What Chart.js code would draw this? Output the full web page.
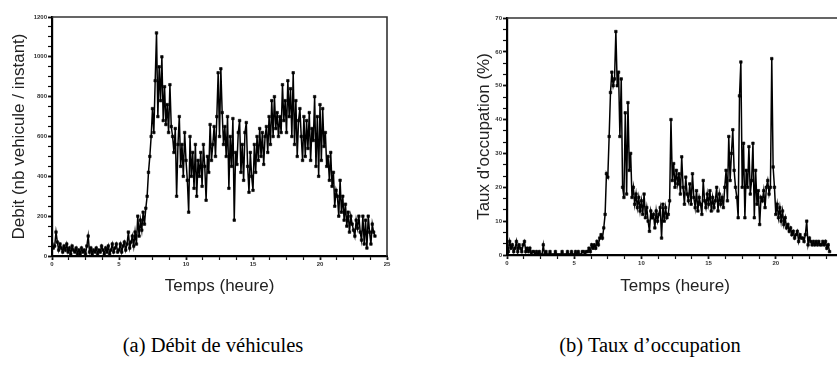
<!DOCTYPE html>
<html><head><meta charset="utf-8">
<script src="https://cdn.jsdelivr.net/npm/chart.js@4/dist/chart.umd.min.js"></script>
<style>
html,body{margin:0;padding:0;background:#fff;width:837px;height:376px;overflow:hidden;position:relative}
.c{position:absolute;top:0;height:300px;width:420px}
#wa{left:0}
#wb{left:465px}
.cap{position:absolute;font-family:"Liberation Serif","Times New Roman",serif;font-size:20.5px;color:#000;top:334px;white-space:nowrap;transform:translateX(-50%)}
</style></head><body>
<div class="c" id="wa"><canvas id="ca" width="420" height="300"></canvas></div>
<div class="c" id="wb"><canvas id="cb" width="420" height="300"></canvas></div>
<div class="cap" style="left:213px">(a) Débit de véhicules</div>
<div class="cap" style="left:650px">(b) Taux d’occupation</div>
<script>
// sampling: one value every 0.1 hour (6 minutes), starting at 0 h
const SAMPLE_STEP_H = 0.1;

// (a) Débit (nb véhicule / instant)
const debit = [
 60, 40, 50,120, 70, 30, 60, 40, 20, 50,
 30, 60, 20, 40, 10, 50, 30, 20, 40, 10,
 30, 10, 40, 20, 30, 10, 50,100, 20, 40,
 10, 30, 20, 40, 10, 30, 20, 50, 30, 10,
 40, 20, 50, 10, 30, 60, 20, 40, 60, 20,
 30, 60, 20, 50, 70, 30, 60,120, 40, 70,
100, 50,120, 60,200,100,180,130,220,160,
240,300,420,500,600,740,620,880,1120,700,
950,780,1000,680,850,660,760,620,860,650,
600,520,640,300,560,700,450,560,400,620,
480,380,220,600,400,520,340,560,300,480,
400,520,350,560,450,280,500,420,660,480,
560,650,500,700,920,600,940,720,560,650,
500,700,340,600,450,690,180,520,460,620,
680,420,560,380,620,670,450,320,520,400,
330,560,420,600,480,640,500,620,460,600,
650,520,700,560,780,600,800,640,720,600,
700,620,860,680,780,620,880,700,840,600,
920,560,780,500,680,740,600,480,700,500,
680,540,720,480,640,580,800,450,700,400,
760,480,740,550,620,450,500,380,520,350,
420,250,330,300,200,380,220,300,180,260,
150,220,120,200,160,130,100,180,140,200,
120, 80,200, 60,180, 40,200,120, 60,160,
120,100
];

// (b) Taux d'occupation (%)
const occupation = [
  3, 1, 4, 2, 3, 1, 2, 4, 1, 3,
  2, 1, 3, 4, 1, 2, 1, 2, 0, 1,
  1, 0, 1, 0, 1, 0, 0, 3, 0, 1,
  0, 0, 1, 0, 0, 0, 1, 0, 0, 0,
  0, 1, 0, 0, 0, 1, 0, 0, 1, 0,
  0, 1, 0, 1, 0, 0, 1, 1, 0, 1,
  1, 2, 1, 3, 2, 3, 2, 4, 3, 5,
  6, 5, 8,12,24,23,35,48,54,50,
 52,66,50,54,35,52,20,17,42,18,
 45,25,30,17,20,15,18,14,17,13,
 16,12,18,11,14,10, 7,13,11,12,
  8,13,10,12,14, 5,15,10,14,11,
 12,16,40,22,27,20,25,21,24,18,
 29,20,15,23,18,16,21,15,24,17,
 14,19,13,17,15,12,22,16,14,18,
 15,19,13,17,14,16,20,13,18,15,
 17,14,20,25,16,35,22,30,37,25,
 20,17,11,47,57,20,33,11,25,20,
 32,18,22,33,11,25,15,19, 9,17,
 16,19,14,20,22,18,20,58,26,20,
 12,15,11,14,10,13, 9,11, 8, 9,
  7, 8, 6, 7, 5, 6, 7, 4, 6, 5,
  5, 4, 6,10, 3, 5, 4, 3, 4, 3,
  4, 3, 4, 3, 3, 4, 3, 4, 2, 3,
  1
];

// tick labels
const hourTicks = [0, 5, 10, 15, 20, 25];
const debitTicks = [0, 200, 400, 600, 800, 1000, 1200];
const occupationTicks = [0, 10, 20, 30, 40, 50, 60, 70];
const hourMinorPerMajor = 4;
const debitMinorPerMajor = 4;
const occupationMinorPerMajor = 3;

const xTitle = 'Temps (heure)';
const yTitleA = 'Debit (nb vehicule / instant)';
const yTitleB = "Taux d'occupation (%)";

function withMinor(majors, sub) {
  const out = [];
  for (let i = 0; i < majors.length; i++) {
    out.push({v: majors[i], major: true});
    if (i < majors.length - 1) {
      const d = (majors[i + 1] - majors[i]) / sub;
      for (let k = 1; k < sub; k++) out.push({v: majors[i] + d * k, major: false});
    }
  }
  return out;
}
function isMajor(majors, v) { return majors.some(m => Math.abs(m - v) < 1e-6); }

const frame = {
  id: 'frame',
  afterDatasetsDraw(chart) {
    const {ctx, chartArea: a} = chart;
    ctx.save();
    ctx.strokeStyle = '#333';
    ctx.lineWidth = 1.6;
    ctx.beginPath();
    ctx.moveTo(a.left, a.top);
    ctx.lineTo(a.right, a.top);
    ctx.lineTo(a.right, a.bottom);
    ctx.stroke();
    ctx.restore();
  }
};

const FONT = '"Liberation Sans", Arial, sans-serif';

function makeChart(id, values, yMajors, ySub, yTitle, pad, yWidth, xHeight) {
  const points = values.map((v, i) => ({x: i * SAMPLE_STEP_H, y: v}));
  const xT = withMinor(hourTicks, hourMinorPerMajor);
  const yT = withMinor(yMajors, ySub);
  const tickGrid = majors => ({
    display: true, drawOnChartArea: false, drawTicks: true, tickLength: 4,
    tickColor: '#111',
    tickWidth: c => (c.tick && isMajor(majors, c.tick.value)) ? 1.8 : 1.2
  });
  return new Chart(document.getElementById(id), {
    type: 'line',
    data: { datasets: [{
      data: points,
      borderColor: '#000', borderWidth: 1.5,
      pointStyle: 'rect', pointRadius: 1.8,
      pointBackgroundColor: '#000', pointBorderColor: '#000', pointBorderWidth: 0.6,
      tension: 0
    }]},
    options: {
      responsive: false, animation: false,
      layout: { padding: pad },
      plugins: { legend: {display: false}, tooltip: {enabled: false} },
      scales: {
        x: {
          type: 'linear', min: hourTicks[0], max: hourTicks[hourTicks.length - 1],
          afterBuildTicks: s => { s.ticks = xT.map(t => ({value: t.v})); },
          afterFit: s => { s.height = xHeight; },
          ticks: { autoSkip: false, maxRotation: 0, padding: 1,
            font: {family: FONT, size: 6, weight: 'bold'}, color: '#333',
            callback: v => isMajor(hourTicks, v) ? String(Math.round(v)) : '' },
          grid: tickGrid(hourTicks),
          border: { display: true, color: '#000', width: 2.2 },
          title: { display: true, text: xTitle, color: '#222',
            font: {family: FONT, size: 17}, padding: {top: 0, bottom: 3} }
        },
        y: {
          type: 'linear', min: yMajors[0], max: yMajors[yMajors.length - 1],
          afterBuildTicks: s => { s.ticks = yT.map(t => ({value: t.v})); },
          afterFit: s => { s.width = yWidth; },
          ticks: { autoSkip: false, padding: 1,
            font: {family: FONT, size: 6, weight: 'bold'}, color: '#333',
            callback: v => isMajor(yMajors, v) ? String(Math.round(v)) : '' },
          grid: tickGrid(yMajors),
          border: { display: true, color: '#000', width: 2.2 },
          title: { display: true, text: yTitle, color: '#222',
            font: {family: FONT, size: 17}, padding: {top: 9, bottom: 0} }
        }
      }
    },
    plugins: [frame]
  });
}

makeChart('ca', debit, debitTicks, debitMinorPerMajor, yTitleA,
  {top: 17, right: 33, left: 0, bottom: 0}, 52, 44);
makeChart('cb', occupation, occupationTicks, occupationMinorPerMajor, yTitleB,
  {top: 18, right: 42, left: 0, bottom: 0}, 42, 45);
</script>
</body></html>
